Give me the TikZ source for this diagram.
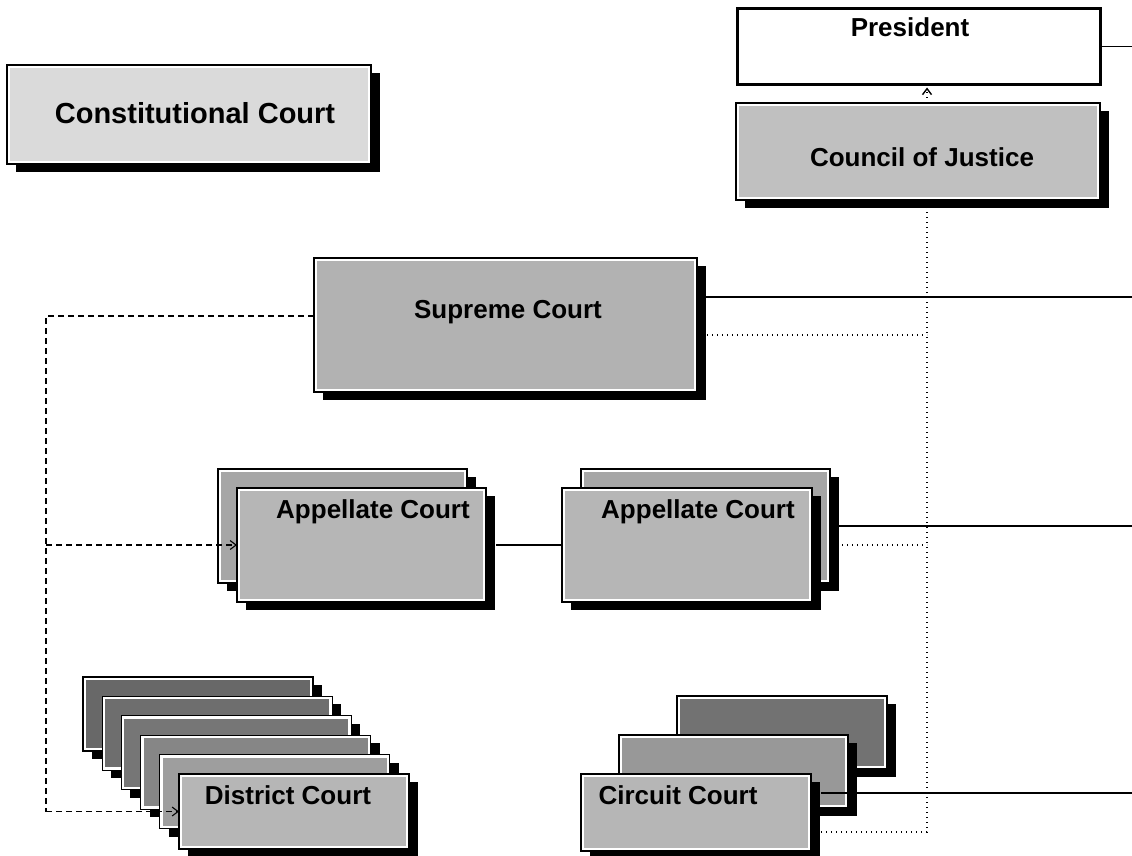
\documentclass[tikz,border=0pt]{standalone}
\usepackage{fontspec}
\setmainfont{Liberation Sans}
\usetikzlibrary{shadows,calc,arrows.meta,backgrounds}
\definecolor{cconst}{HTML}{DADADA}
\definecolor{ccouncil}{HTML}{C0C0C0}
\definecolor{csup}{HTML}{B2B2B2}
\definecolor{cfront}{HTML}{B6B6B6}
\definecolor{cback}{HTML}{A6A6A6}
\definecolor{cd1}{HTML}{686868}
\definecolor{cd2}{HTML}{6E6E6E}
\definecolor{cd3}{HTML}{767676}
\definecolor{cd4}{HTML}{868686}
\definecolor{cd5}{HTML}{9E9E9E}
\definecolor{cc1}{HTML}{727272}
\definecolor{cc2}{HTML}{989898}
\begin{document}
\begin{tikzpicture}[x=1pt,y=-1pt,
  box/.style={draw=black, line width=1.3pt, fill=white, anchor=north west,
    inner sep=0pt, outer sep=0pt,
    drop shadow={fill=black, opacity=1, shadow xshift=9pt, shadow yshift=-8pt},
    path picture={\fill[#1] ([shift={(3pt,-3pt)}]path picture bounding box.north west)
      rectangle ([shift={(-3pt,3pt)}]path picture bounding box.south east);}},
  lbl/.style={font=\bfseries\fontsize{26}{30}\selectfont, inner sep=0pt},
  solidline/.style={line width=1.6pt},
  dashline/.style={line width=1.1pt, dash pattern=on 6pt off 4pt},
  dotline/.style={line width=1.4pt, dash pattern=on 1.4pt off 3.6pt},
  tip/.style={-{Straight Barb[length=6pt,width=9pt]}}]
\useasboundingbox (0,0) rectangle (1132,856);
\coordinate (R) at (1132,0);
\coordinate (V) at (927,0);
\coordinate (L) at (46,0);

% boxes
\node[box=cconst, minimum width=364pt, minimum height=99pt] (const) at (7,65) {};
\node[draw=black, line width=3pt, fill=white, anchor=north west, inner sep=0pt,
      minimum width=363pt, minimum height=76pt] (pres) at (736,7) {};
\node[box=ccouncil, minimum width=364pt, minimum height=97pt] (council) at (736,103) {};
\node[box=csup, minimum width=383pt, minimum height=134pt] (sup) at (314,258) {};

\node[box=cback, minimum width=249pt, minimum height=114pt] (lappb) at (218,469) {};
\node[box=cfront, minimum width=249pt, minimum height=114pt] (lappf) at (237,488) {};
\node[box=cback, minimum width=249pt, minimum height=114pt] (rappb) at (581,469) {};
\node[box=cfront, minimum width=250pt, minimum height=114pt] (rappf) at (562,488) {};

\node[box=cd1, minimum width=230pt, minimum height=74pt] (dist1) at (83,677) {};
\node[box=cd2, minimum width=230pt, minimum height=74pt] (dist2) at (102.2,696.4) {};
\node[box=cd3, minimum width=230pt, minimum height=74pt] (dist3) at (121.4,715.8) {};
\node[box=cd4, minimum width=230pt, minimum height=74pt] (dist4) at (140.6,735.2) {};
\node[box=cd5, minimum width=230pt, minimum height=74pt] (dist5) at (159.8,754.6) {};
\node[box=cfront, minimum width=230pt, minimum height=75pt] (dist6) at (179,774) {};

\node[box=cc1, minimum width=210pt, minimum height=73pt] (circ1) at (677,696) {};
\node[box=cc2, minimum width=229pt, minimum height=73pt] (circ2) at (619,735) {};
\node[box=cfront, minimum width=230pt, minimum height=77pt] (circ3) at (581,774) {};

% labels
\node[lbl, font=\bfseries\fontsize{29}{33}\selectfont] (tconst) at (195,113) {Constitutional Court};
\node[lbl] (tpres) at (910,27) {President};
\node[lbl] (tcouncil) at (922,157) {Council of Justice};
\node[lbl] (tsup) at (508,312) {Supreme Court};
\node[lbl] (tlapp) at (373,512) {Appellate Court};
\node[lbl] (trapp) at (698,512) {Appellate Court};
\node[lbl] (tdist) at (288,795) {District Court};
\node[lbl] (tcirc) at (678,795) {Circuit Court};

% connectors behind the boxes
\begin{pgfonlayer}{background}
  \draw[solidline] (pres.east) -- (pres.east -| R);
  \draw[solidline] ($(sup.north east)+(0,39)$) coordinate (s1) -- (s1 -| R);
  \draw[solidline] (rappb.east) -- (rappb.east -| R);
  \draw[dotline] ($(sup.north east)+(0,77)$) coordinate (s2) -- (s2 -| V);
  \draw[dotline] (rappf.east) -- (rappf.east -| V);
  \draw[dotline] ($(circ3.north east)+(0,58)$) -| (V |- council.south);
  \draw[dashline] ($(sup.north west)+(0,58)$) coordinate (s3) -| (L |- dist6.west);
\end{pgfonlayer}

% connectors on top
\draw[dotline, tip] (V |- council.north) -- ([yshift=-1.5pt]V |- pres.south);
\draw[solidline] ($(lappf.east)+(10,0)$) -- (rappf.west);
\draw[solidline] ($(circ3.north east)+(10,19)$) coordinate (c1) -- (c1 -| R);
\draw[dashline, tip] (L |- lappf.west) -- (lappf.west);
\draw[dashline, tip] (L |- dist6.west) -- (dist6.west);
\end{tikzpicture}
\end{document}
